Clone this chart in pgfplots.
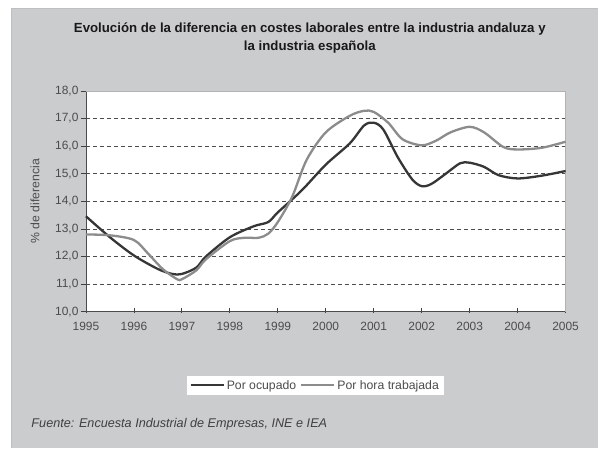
\documentclass[border=0pt]{standalone}
\usepackage{pgfplots}
\pgfplotsset{compat=1.18}
\usepackage{fontspec}
\setmainfont{Liberation Sans}
\definecolor{bggray}{HTML}{CBCCCE}
\definecolor{darkline}{HTML}{363636}
\definecolor{lightline}{HTML}{8C8C8C}
\begin{document}
\begin{tikzpicture}[x=1bp,y=1bp]
\fill[white] (-86,-136) rectangle (512,312);
\fill[bggray] (-74.3,-136) rectangle (512,304);
\draw[gray!50, line width=0.8bp] (-74.3,-136) -- (-74.3,304) -- (512,304);
\node[font=\fontsize{13.3}{18}\selectfont\bfseries, align=center, text=black!90] at (224,274) {Evolución de la diferencia en costes laborales entre la industria andaluza y\\la industria española};
\node[font=\fontsize{12.7}{14}\selectfont\itshape, anchor=west, text=black!75] at (-58,-113) {Fuente: Encuesta Industrial de Empresas, INE e IEA};
\begin{axis}[
  at={(0,0)}, anchor=origin,
  scale only axis, width=480bp, height=221bp,
  xmin=1995, xmax=2005, ymin=10, ymax=18,
  xtick={1995,...,2005}, ytick={10,...,18},
  axis background/.style={fill=white},
  axis x line*=bottom, axis y line*=left,
  axis line style={draw=black!70, line width=0.8bp, -},
  tick style={black!75, line width=0.8bp},
  xtick pos=bottom, ytick pos=left,
  tick align=outside,
  x tick style={yshift=3.5bp},
  major tick length=5bp,
  ymajorgrids, grid style={dash pattern=on 4bp off 3bp, black!70, line width=0.7bp},
  /pgf/number format/assume math mode=true,
  x tick label style={/pgf/number format/set thousands separator={}, font=\fontsize{12}{14}\selectfont, text=black!70, yshift=-2bp},
  y tick label style={/pgf/number format/.cd, fixed, fixed zerofill, precision=1, use comma, /tikz/.cd, font=\fontsize{12}{14}\selectfont, text=black!70, xshift=1bp},
  ylabel={\% de diferencia},
  ylabel style={font=\fontsize{12.3}{14}\selectfont, text=black!70, at={(-51bp,0.5)}, anchor=center, rotate=0},
  legend columns=2,
  legend style={at={(0.478,-0.333)}, anchor=center, draw=none, fill=white, font=\fontsize{12.3}{14}\selectfont, text=black!70, inner xsep=3bp, inner ysep=2bp, /tikz/every even column/.append style={column sep=2bp}},
  legend image code/.code={\draw[#1, line width=2.2bp] (0bp,0bp) -- (33bp,0bp);},
  clip=false,
]
\draw[gray!60, line width=0.8bp] (rel axis cs:0,1) -- (rel axis cs:1,1) -- (rel axis cs:1,0);
\addplot[darkline, line width=2.3bp, smooth, tension=0.5] coordinates {
(1995,13.46) (1995.5,12.7) (1996,12.04) (1996.5,11.55) (1996.8,11.37) (1997,11.37)
(1997.3,11.6) (1997.5,12.0) (1998,12.7) (1998.5,13.1) (1998.8,13.25) (1999,13.6)
(1999.5,14.4) (2000,15.33) (2000.5,16.1) (2000.8,16.75) (2001,16.85) (2001.2,16.6)
(2001.5,15.6) (2001.8,14.8) (2002,14.55) (2002.2,14.63) (2002.5,15.0) (2002.8,15.38)
(2003,15.4) (2003.3,15.25) (2003.6,14.95) (2004,14.83) (2004.5,14.93) (2005,15.1)
};
\addlegendentry{Por ocupado}
\addplot[lightline, line width=2.3bp, smooth, tension=0.5] coordinates {
(1995,12.8) (1995.5,12.77) (1996,12.6) (1996.3,12.1) (1996.6,11.55) (1996.9,11.18)
(1997,11.18) (1997.3,11.5) (1997.5,11.9) (1998,12.56) (1998.3,12.68) (1998.6,12.68)
(1998.8,12.83) (1999,13.25) (1999.3,14.17) (1999.6,15.5) (2000,16.5) (2000.5,17.1)
(2000.8,17.28) (2001,17.24) (2001.3,16.85) (2001.6,16.25) (2002,16.03) (2002.3,16.2)
(2002.6,16.5) (2003,16.7) (2003.3,16.5) (2003.7,15.97) (2004,15.88) (2004.5,15.94)
(2005,16.16)
};
\addlegendentry{Por hora trabajada}
\end{axis}
\end{tikzpicture}
\end{document}
